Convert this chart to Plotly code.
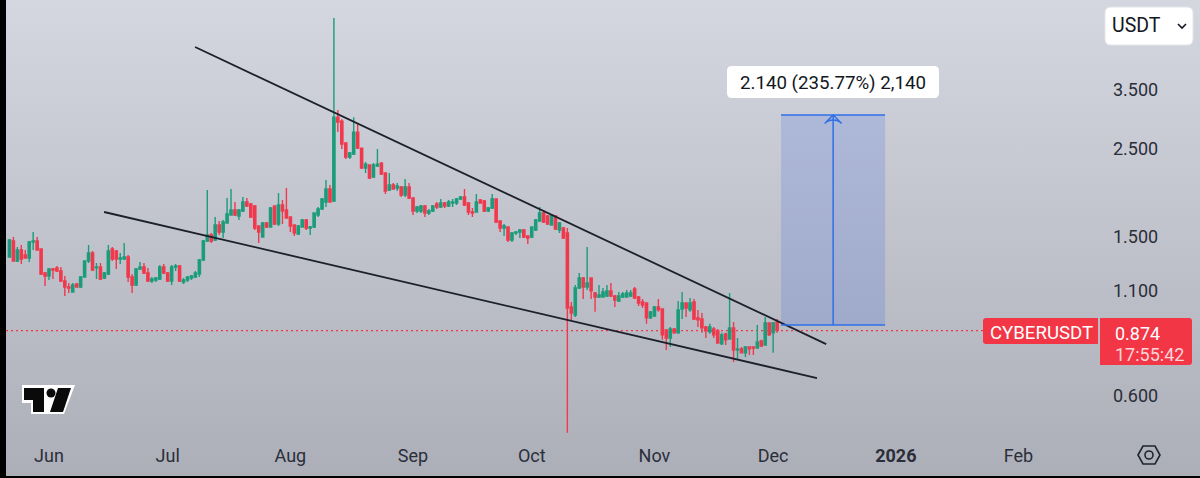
import base64
import pandas as pd
import plotly.graph_objects as go

# ---------- data ----------
first_date = "2025-05-22"
open_ = [1.336,1.465,1.306,1.391,1.352,1.329,1.457,1.465,1.399,1.219,1.198,1.247,1.255,1.233,1.164,1.124,1.092,1.144,1.124,1.191,
 1.306,1.367,1.255,1.262,1.184,1.212,1.399,1.383,1.321,1.321,1.336,1.191,1.137,1.247,1.262,1.219,1.164,1.170,1.177,1.262,
 1.219,1.164,1.262,1.269,1.157,1.170,1.184,1.191,1.212,1.313,1.465,1.517,1.474,1.607,1.543,1.626,1.702,1.752,1.692,1.742,
 1.835,1.814,1.793,1.598,1.499,1.626,1.588,1.793,1.616,1.803,1.752,1.683,1.607,1.525,1.588,1.654,1.579,1.588,1.702,1.762,
 1.835,1.978,1.845,2.992,2.925,2.577,2.378,2.419,2.745,2.503,2.232,2.270,2.119,2.257,2.296,2.168,1.966,2.023,1.989,2.000,
 1.910,2.000,1.877,1.742,1.742,1.793,1.722,1.742,1.814,1.783,1.824,1.793,1.824,1.824,1.867,1.888,1.824,1.732,1.732,1.856,
 1.845,1.742,1.772,1.867,1.644,1.579,1.588,1.474,1.534,1.543,1.561,1.508,1.499,1.561,1.644,1.722,1.692,1.607,1.692,1.561,
 1.579,1.534,1.002,0.957,1.118,1.184,1.124,1.184,1.086,1.061,1.061,1.067,1.099,1.067,1.037,1.061,1.061,1.067,1.111,1.061,
 1.031,1.025,0.941,0.951,1.002,0.990,0.878,0.838,0.883,0.863,0.990,1.025,0.985,1.031,0.941,0.935,0.893,0.868,0.883,0.873,
 0.810,0.858,0.833,0.888,0.782,0.787,0.769,0.796,0.796,0.791,0.824,0.805,0.914,0.863,0.919]
high = [1.482,1.499,1.415,1.432,1.391,1.465,1.543,1.499,1.399,1.226,1.255,1.255,1.269,1.262,1.198,1.150,1.150,1.150,1.198,1.306,
 1.432,1.383,1.291,1.291,1.226,1.432,1.415,1.391,1.367,1.449,1.352,1.212,1.255,1.298,1.291,1.255,1.191,1.191,1.276,1.284,
 1.226,1.276,1.284,1.276,1.184,1.198,1.205,1.233,1.321,1.474,1.966,1.534,1.683,1.644,1.654,1.877,1.978,1.835,1.762,1.888,
 1.877,1.824,1.803,1.598,1.635,1.635,1.783,1.793,1.933,1.856,1.989,1.683,1.607,1.607,1.664,1.664,1.598,1.722,1.783,1.877,
 2.082,2.023,5.300,3.116,2.958,2.577,2.447,2.992,2.891,2.503,2.310,2.270,2.296,2.489,2.310,2.168,2.168,2.047,2.047,2.012,
 2.094,2.047,1.877,1.793,1.803,1.803,1.762,1.803,1.835,1.867,1.835,1.856,1.867,1.877,1.899,1.978,1.835,1.772,1.921,1.867,
 1.856,1.783,1.921,1.867,1.644,1.616,1.588,1.543,1.552,1.570,1.570,1.508,1.588,1.664,1.783,1.752,1.702,1.712,1.702,1.635,
 1.588,1.579,1.031,1.137,1.219,1.191,1.415,1.184,1.092,1.137,1.118,1.137,1.150,1.074,1.092,1.092,1.105,1.105,1.124,1.067,
 1.049,1.025,0.979,1.007,1.049,0.990,0.878,0.893,0.888,1.037,1.092,1.025,1.055,1.049,0.985,0.968,0.898,0.909,0.893,0.883,
 0.863,0.863,1.086,0.919,0.838,0.796,0.800,0.796,0.796,0.903,0.829,0.946,0.914,0.919,0.935]
low = [1.336,1.306,1.298,1.284,1.329,1.298,1.391,1.391,1.205,1.131,1.170,1.177,1.226,1.157,1.067,1.086,1.092,1.124,1.118,1.191,
 1.291,1.233,1.177,1.170,1.177,1.205,1.306,1.247,1.284,1.313,1.157,1.086,1.131,1.240,1.212,1.157,1.150,1.157,1.170,1.212,
 1.157,1.137,1.233,1.157,1.144,1.157,1.170,1.184,1.191,1.306,1.457,1.449,1.465,1.517,1.491,1.626,1.702,1.692,1.654,1.732,
 1.783,1.673,1.561,1.449,1.499,1.579,1.588,1.607,1.598,1.616,1.673,1.543,1.508,1.517,1.588,1.561,1.517,1.579,1.683,1.752,
 1.783,1.835,1.835,2.745,2.489,2.350,2.350,2.405,2.489,2.219,2.168,2.094,2.107,2.245,2.143,1.921,1.955,1.978,1.955,1.888,
 1.888,1.867,1.702,1.722,1.722,1.683,1.702,1.732,1.762,1.772,1.772,1.783,1.783,1.803,1.856,1.793,1.702,1.683,1.732,1.824,
 1.732,1.732,1.762,1.626,1.543,1.508,1.457,1.457,1.517,1.491,1.491,1.440,1.491,1.552,1.635,1.626,1.607,1.607,1.561,1.534,
 1.482,0.485,0.930,0.946,1.111,1.049,1.105,1.049,0.974,1.055,1.061,1.061,1.061,1.002,1.031,1.055,1.061,1.061,1.049,1.007,
 0.996,0.909,0.935,0.946,0.974,0.829,0.782,0.796,0.858,0.858,0.935,0.946,0.974,0.930,0.893,0.863,0.838,0.858,0.838,0.814,
 0.805,0.805,0.829,0.730,0.743,0.769,0.751,0.760,0.760,0.787,0.796,0.805,0.848,0.769,0.863]
close = [1.474,1.306,1.391,1.321,1.329,1.457,1.465,1.391,1.212,1.198,1.247,1.240,1.233,1.164,1.124,1.118,1.137,1.124,1.191,1.306,
 1.367,1.240,1.262,1.177,1.219,1.383,1.321,1.321,1.329,1.336,1.191,1.137,1.247,1.262,1.219,1.164,1.177,1.184,1.262,1.219,
 1.164,1.262,1.269,1.164,1.170,1.191,1.198,1.219,1.313,1.465,1.517,1.465,1.607,1.543,1.635,1.712,1.752,1.702,1.752,1.835,
 1.793,1.683,1.579,1.543,1.626,1.588,1.772,1.616,1.803,1.742,1.673,1.598,1.534,1.598,1.654,1.579,1.588,1.722,1.762,1.867,
 1.978,1.835,2.992,2.908,2.562,2.378,2.433,2.745,2.503,2.232,2.283,2.107,2.270,2.283,2.155,1.955,2.023,1.978,2.012,1.910,
 2.000,1.877,1.742,1.783,1.793,1.722,1.742,1.793,1.783,1.824,1.793,1.835,1.835,1.867,1.888,1.803,1.732,1.722,1.835,1.824,
 1.742,1.772,1.867,1.635,1.579,1.598,1.474,1.534,1.543,1.561,1.499,1.491,1.588,1.654,1.722,1.635,1.616,1.702,1.570,1.626,
 1.491,0.996,0.968,1.118,1.184,1.124,1.150,1.099,1.061,1.074,1.092,1.099,1.067,1.043,1.067,1.080,1.086,1.086,1.055,1.025,
 1.013,0.941,0.974,1.002,0.985,0.853,0.838,0.883,0.863,0.985,1.025,0.996,1.025,0.935,0.930,0.888,0.873,0.893,0.853,0.814,
 0.853,0.829,0.888,0.782,0.787,0.769,0.796,0.787,0.791,0.819,0.800,0.914,0.853,0.914,0.874]

last_price = 0.874
upper_dates = ["2025-07-07 22:00", "2025-12-14 10:00"]
upper_prices = [4.483, 0.809]
lower_dates = ["2025-06-14 22:00", "2025-12-12 02:00"]
lower_prices = [1.732, 0.665]
target_start = "2025-12-03 00:00"
target_end = "2025-12-29 07:00"
target_mid = "2025-12-16 04:00"
target_low = 0.903
target_high = 3.03

month_dates = ["2025-06-01","2025-07-01","2025-08-01","2025-09-01","2025-10-01","2025-11-01","2025-12-01","2026-01-01","2026-02-01"]
month_labels = ["Jun","Jul","Aug","Sep","Oct","Nov","Dec","<b>2026</b>","Feb"]
price_ticks = [0.6, 1.1, 1.5, 2.5, 3.5]
price_labels = ["0.600", "1.100", "1.500", "2.500", "3.500"]

# ---------- page geometry ----------
W, H = 1200, 478
PW, PH = 1100, 435   # plot area
FONT = "Roboto"
INK = "#2a2e39"
RED = "#f23645"
UP = "#1b9c7a"
DOWN = "#f0394d"
BLUE = "#2f6fe8"

def fx(p): return p / PW
def fy(p): return 1 - p / PH

def rrect(x0, y0, x1, y1, tl=0, tr=0, br=0, bl=0):
    a, b, c, d = fx(x0), fy(y0), fx(x1), fy(y1)
    pts = [f"M{fx(x0+tl)},{b}", f"L{fx(x1-tr)},{b}", f"Q{c},{b} {c},{fy(y0+tr)}",
           f"L{c},{fy(y1-br)}", f"Q{c},{d} {fx(x1-br)},{d}", f"L{fx(x0+bl)},{d}",
           f"Q{a},{d} {a},{fy(y1-bl)}", f"L{a},{fy(y0+tl)}", f"Q{a},{b} {fx(x0+tl)},{b}", "Z"]
    return " ".join(pts)

def poly(points, close_it=True):
    s = "M" + " L".join(f"{fx(x)},{fy(y)}" for x, y in points)
    return s + (" Z" if close_it else "")

def pshape(path, fill="rgba(0,0,0,0)", line=None, width=0, layer="above"):
    return dict(type="path", xref="paper", yref="paper", path=path, fillcolor=fill, layer=layer,
                line=dict(color=line or "rgba(0,0,0,0)", width=width))

def label(x, y, text, size=18, color=INK, anchor="center"):
    return dict(xref="paper", yref="paper", x=fx(x), y=fy(y), text=text, showarrow=False,
                xanchor=anchor, yanchor="middle", font=dict(family=FONT, size=size, color=color))

dates = pd.date_range(first_date, periods=len(close), freq="D")
jun1 = pd.Timestamp("2025-06-01")
px_per_day = 3.957
x_left = jun1 - pd.Timedelta(days=49 / px_per_day)
x_right = jun1 + pd.Timedelta(days=(PW - 49) / px_per_day)
y_top = (307.3 - 0) / 399.5
y_bot = (307.3 - PH) / 399.5

fig = go.Figure()
fig.add_trace(go.Candlestick(
    x=dates, open=open_, high=high, low=low, close=close,
    increasing=dict(line=dict(color=UP, width=1.4), fillcolor=UP),
    decreasing=dict(line=dict(color=DOWN, width=1.4), fillcolor=DOWN),
    whiskerwidth=0, showlegend=False, hoverinfo="skip"))
fig.add_trace(go.Scatter(x=upper_dates, y=upper_prices, mode="lines", line=dict(color="#1c202b", width=1.8),
                         showlegend=False, hoverinfo="skip"))
fig.add_trace(go.Scatter(x=lower_dates, y=lower_prices, mode="lines", line=dict(color="#1c202b", width=1.8),
                         showlegend=False, hoverinfo="skip"))
fig.add_trace(go.Scatter(x=[target_mid, target_mid], y=[target_low, target_high], mode="lines",
                         line=dict(color=BLUE, width=1.5), showlegend=False, hoverinfo="skip"))
fig.add_trace(go.Scatter(x=[target_mid], y=[target_high], mode="markers", cliponaxis=False,
                         marker=dict(symbol="arrow-wide-open", size=12, color=BLUE,
                                     line=dict(color=BLUE, width=1.5)),
                         showlegend=False, hoverinfo="skip"))

svg = (f'<svg xmlns="http://www.w3.org/2000/svg" width="{W}" height="{H}">'
       '<defs><linearGradient id="g" x1="0" y1="0" x2="0" y2="1">'
       '<stop offset="0" stop-color="#d5d7e0"/><stop offset="1" stop-color="#acafb8"/>'
       '</linearGradient></defs><rect width="100%" height="100%" fill="url(#g)"/></svg>')
bg = "data:image/svg+xml;base64," + base64.b64encode(svg.encode()).decode()

shapes = [
    # last price dotted line
    dict(type="line", xref="paper", yref="y", x0=fx(6), x1=fx(983), y0=last_price, y1=last_price,
         line=dict(color=RED, width=1.2, dash="2px,3px"), layer="below"),
    # target box
    dict(type="rect", xref="x", yref="y", x0=target_start, x1=target_end, y0=target_low, y1=target_high,
         fillcolor="rgba(60,100,225,0.2)", line=dict(width=0), layer="below"),
    dict(type="line", xref="x", yref="y", x0=target_start, x1=target_end, y0=target_low, y1=target_low,
         line=dict(color=BLUE, width=1.5)),
    dict(type="line", xref="x", yref="y", x0=target_start, x1=target_end, y0=target_high, y1=target_high,
         line=dict(color=BLUE, width=1.5)),
    # measure label box
    pshape(rrect(727, 66, 939, 98, 5, 5, 5, 5), fill="#ffffff"),
    # currency selector
    pshape(rrect(1105, 7, 1193, 45, 6, 6, 6, 6), fill="#ffffff", line="#e4e5ea", width=1),
    pshape(poly([(1178, 24), (1182, 28), (1186, 24)], close_it=False), line="#131722", width=1.6),
    # price tags
    pshape(rrect(983, 318, 1098, 344, 3, 0, 0, 3), fill=RED),
    pshape(rrect(1100, 318, 1192, 365, 0, 3, 3, 0), fill=RED),
    # watermark logo
    pshape(poly([(22, 385), (75, 385), (64, 414), (31, 414), (31, 403), (22, 403)]), fill="#ffffff"),
    pshape(poly([(24, 388), (44, 388), (44, 412), (33, 412), (33, 400), (24, 400)]), fill="#0a0a0a"),
    pshape(poly([(58, 388), (71, 388), (63, 412), (50, 412)]), fill="#0a0a0a"),
    dict(type="circle", xref="paper", yref="paper", x0=fx(46.5), x1=fx(55.5), y0=fy(388.5), y1=fy(397.5),
         fillcolor="#0a0a0a", line=dict(width=0)),
    # settings hexagon
    pshape(poly([(1138, 455), (1143, 446), (1155, 446), (1160, 455), (1155, 464), (1143, 464)]),
           line="#1f2430", width=1.6),
    dict(type="circle", xref="paper", yref="paper", x0=fx(1145), x1=fx(1153), y0=fy(451), y1=fy(459),
         fillcolor="rgba(0,0,0,0)", line=dict(color="#1f2430", width=1.6)),
    # screenshot edges
    dict(type="rect", xref="paper", yref="paper", x0=0, x1=fx(6), y0=fy(H), y1=1,
         fillcolor="#000000", line=dict(width=0)),
    dict(type="rect", xref="paper", yref="paper", x0=0, x1=fx(W), y0=fy(H), y1=fy(476),
         fillcolor="#000000", line=dict(width=0)),
]

annotations = [
    label(833, 83, "2.140 (235.77%) 2,140", 18.7, "#131722"),
    label(1110, 26, "USDT", 19.5, "#131722", "left"),
    label(1041, 333, "CYBERUSDT", 18.6, "#ffffff"),
    label(1113, 333, "0.874", 18, "#ffffff", "left"),
    label(1113, 354, "17:55:42", 18, "#fbd5da", "left"),
]

fig.update_layout(
    width=W, height=H, autosize=False,
    margin=dict(l=0, r=W - PW, t=0, b=H - PH, pad=0),
    paper_bgcolor="#c0c2cb", plot_bgcolor="rgba(0,0,0,0)",
    font=dict(family=FONT, size=18, color=INK),
    boxgap=0.2,
    hovermode=False,
    shapes=shapes, annotations=annotations,
    images=[dict(source=bg, xref="paper", yref="paper", x=0, y=1, sizex=W / PW, sizey=H / PH,
                 sizing="stretch", xanchor="left", yanchor="top", layer="below")],
    xaxis=dict(type="date", range=[x_left, x_right], rangeslider=dict(visible=False),
               tickmode="array", tickvals=month_dates, ticktext=month_labels, ticks="",
               ticklabelstandoff=8, showgrid=False, zeroline=False, showline=False,
               tickfont=dict(family=FONT, size=18, color=INK), ticklabeloverflow="allow"),
    yaxis=dict(type="log", side="right", range=[y_bot, y_top],
               tickmode="array", tickvals=price_ticks, ticktext=price_labels, ticks="",
               ticklabelstandoff=12, showgrid=False, zeroline=False, showline=False,
               tickfont=dict(family=FONT, size=18, color=INK)),
)

fig.write_html("out.html", config=dict(displayModeBar=False),
               post_script="document.body.style.margin='0';document.body.style.overflow='hidden';")
